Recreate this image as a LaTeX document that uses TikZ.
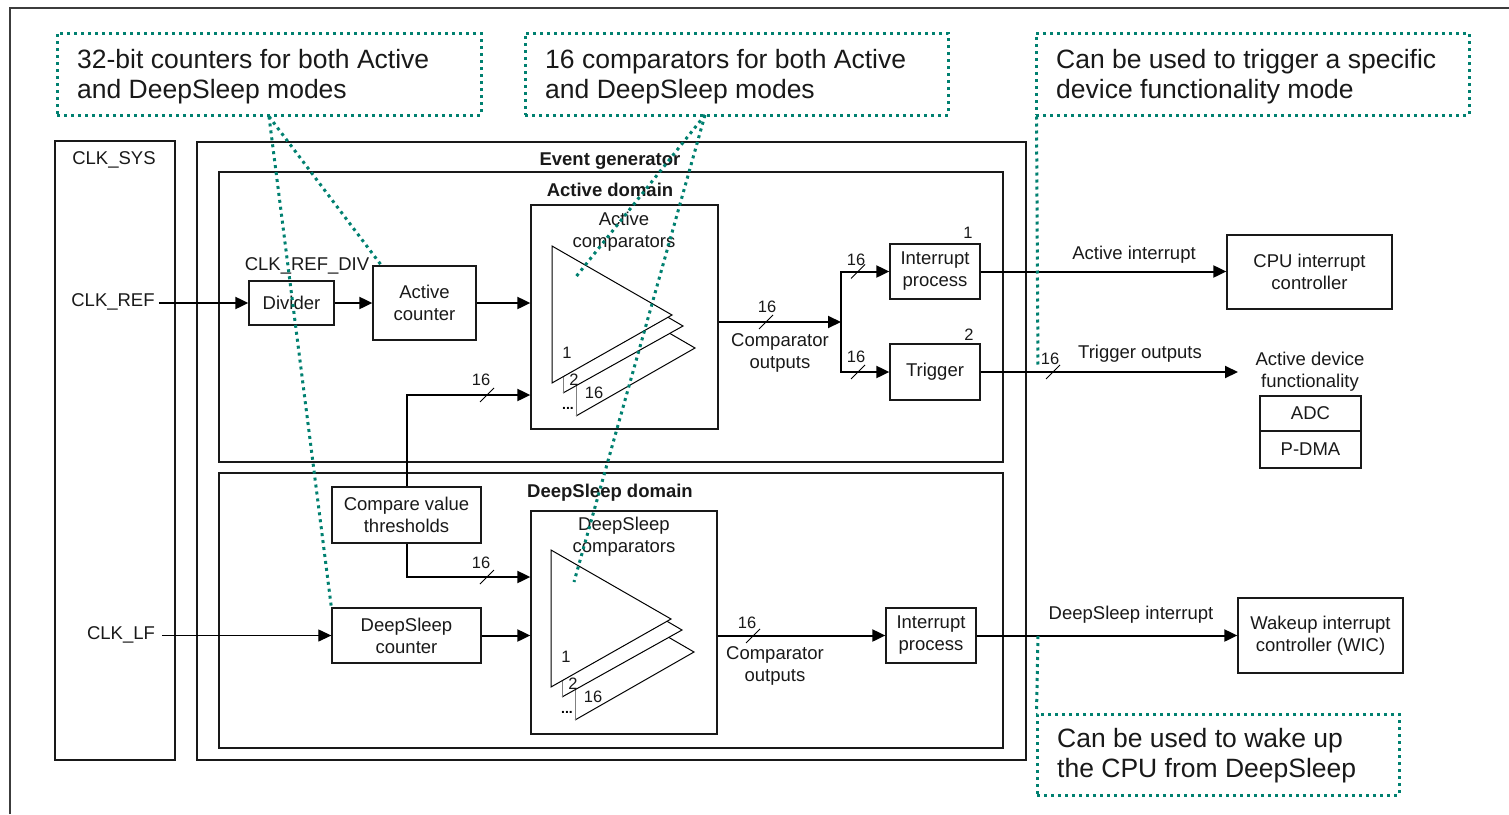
\documentclass[tikz,border=0pt]{standalone}
\usepackage{fontspec}
\setmainfont{Liberation Sans}
\usetikzlibrary{arrows.meta,calc}
\definecolor{noteteal}{RGB}{0,128,112}
\definecolor{ink}{RGB}{25,25,25}
\definecolor{frameink}{RGB}{60,60,60}

% short diagonal slash marking a 16-bit bus
\newcommand\busmark[2]{\draw[busline] ({#1-7},{#2+7}) -- ({#1+7},{#2-7});}

% stack of three comparator triangles (back to front) with their numbers
\newcommand\cmpstack[1]{%
  \fill[white] (576,279) -- (695,348) -- (576,416) -- cycle;
  \draw[tri] (576,279) -- (695,348) -- (576,416);
  \draw[tri,draw=gray] (576,279) -- (576,416);
  \fill[white] (563,256) -- (683,326) -- (563,393) -- cycle;
  \draw[tri] (563,256) -- (683,326) -- (563,393);
  \draw[tri,draw=gray] (563,256) -- (563,393);
  \filldraw[tri,fill=white] (552,246) -- (672,315) -- (552,383) -- cycle;
  \node[numlbl] (#1one) at (567,353) {1};
  \node[numlbl] (#1two) at (574,380) {2};
  \node[numlbl] (#1last) at (594,393) {16};
  \node[font=\fontsize{14}{16}\selectfont\bfseries, inner sep=0pt, anchor=base] (#1dots) at (568,409) {...};
}

\begin{document}
\begin{tikzpicture}[x=1pt,y=-1pt,
  txt/.style={font=\fontsize{18.5}{22}\selectfont, inner sep=0pt, align=center, text=ink},
  hd/.style={font=\fontsize{18.5}{22}\selectfont\bfseries, inner sep=0pt, text=ink},
  numlbl/.style={font=\fontsize{16.5}{18}\selectfont, inner sep=0pt, text=ink},
  big/.style={font=\fontsize{26.5}{30.5}\selectfont, inner sep=0pt, align=left, text=ink},
  blk/.style={draw=ink, line width=1.3pt, inner sep=0pt, align=center,
              font=\fontsize{18.5}{22}\selectfont, text=ink},
  note/.style={draw=noteteal, line width=3pt, dash pattern=on 3pt off 4pt, inner sep=0pt},
  lead/.style={draw=noteteal, line width=3pt, dash pattern=on 3pt off 4pt},
  wire/.style={draw=black, line width=2pt},
  arr/.style={wire, -{Triangle[length=13pt,width=12pt]}},
  busline/.style={draw=black, line width=1pt},
  tri/.style={draw=black, line width=1pt}
]
\useasboundingbox (0,0) rectangle (1509,814);

% page frame
\draw[frameink, line width=2.3pt] (10,814) -- (10,8) -- (1509,8);

% clock source column
\node[blk, minimum width=120pt, minimum height=619pt] (clksys) at (115,450.5) {};
\node[txt] (clksyst) at (114,160) {CLK\_SYS};
\node[txt, inner xsep=4pt] (clkref) at (113,302) {CLK\_REF};
\node[txt, inner xsep=7pt] (clklf) at (121,635) {CLK\_LF};

% event generator and its two domains
\node[blk, line width=2.5pt, minimum width=829pt, minimum height=618pt] (evgen) at (611.5,451) {};
\node[blk, line width=2pt, minimum width=784pt, minimum height=290pt] (actdom) at (611,317) {};
\node[blk, line width=2pt, minimum width=784pt, minimum height=275pt] (dsdom) at (611,610.5) {};
\node[hd] (evgent) at (610,161) {Event generator};
\node[hd] (actdomt) at (610,190) {Active domain};
\node[hd] (dsdomt) at (610,493) {DeepSleep domain};

% active domain blocks
\node[blk, minimum width=85pt, minimum height=44pt] (div) at (291.5,303) {Divider};
\node[txt] (divt) at (307,266) {CLK\_REF\_DIV};
\node[blk, minimum width=103pt, minimum height=74pt] (actcnt) at (424.5,303) {Active\\counter};
\node[blk, minimum width=187pt, minimum height=224pt] (actcmp) at (624.5,317) {};
\node[txt] (actcmpt) at (624,232) {Active\\comparators};
\cmpstack{a}
\node[blk, minimum width=90pt, minimum height=55pt] (intA) at (935,271.5) {Interrupt\\process};
\node[blk, minimum width=90pt, minimum height=56pt] (trig) at (935,372) {Trigger};
\node[numlbl] (intAn) at (968,233) {1};
\node[numlbl] (trign) at (969,335) {2};
\node[txt] (acmpout) at (780,352.5) {Comparator\\outputs};

% deep-sleep domain blocks
\node[blk, minimum width=149pt, minimum height=56pt] (thr) at (406.5,515) {Compare value\\thresholds};
\node[blk, minimum width=149pt, minimum height=55pt] (dscnt) at (406.5,635.5) {DeepSleep\\counter};
\node[blk, minimum width=186pt, minimum height=223pt] (dscmp) at (624,622.5) {};
\node[txt] (dscmpt) at (624,537) {DeepSleep\\comparators};
\begin{scope}[shift={(-1,304)}]
  \cmpstack{d}
\end{scope}
\node[blk, minimum width=90pt, minimum height=55pt] (intD) at (931,635.5) {Interrupt\\process};
\node[txt] (dcmpout) at (775,666) {Comparator\\outputs};

% destinations
\node[blk, minimum width=165pt, minimum height=74pt] (cpu) at (1309.5,272) {CPU interrupt\\controller};
\node[txt] (adft) at (1310,372) {Active device\\functionality};
\node[blk, minimum width=101pt, minimum height=35pt] (adc) at (1310.5,413.5) {ADC};
\node[blk, minimum width=101pt, minimum height=37pt] (pdma) at (1310.5,449.5) {P-DMA};
\node[blk, minimum width=165pt, minimum height=75pt] (wic) at (1320.5,635.5) {Wakeup interrupt\\controller (WIC)};
\node[txt] (aintt) at (1134,255) {Active interrupt};
\node[txt] (toutt) at (1140,354) {Trigger outputs};
\node[txt] (dintt) at (1131,615) {DeepSleep interrupt};

% signal paths
\coordinate (ain2) at (actcmp.west |- 0,395);
\coordinate (din1) at (dscmp.west |- 0,577);
\coordinate (junc) at (841,322);
\coordinate (tout) at (1238,372);
\draw[arr] (clkref.east |- div.west) -- (div.west);
\draw[arr] (div.east) -- (actcnt.west);
\draw[arr] (actcnt.east) -- (actcnt.east -| actcmp.west);
\draw[arr] (thr.north) |- (ain2);
\draw[arr] (thr.south) |- (din1);
\draw[arr, line width=1.2pt] (clklf.east |- dscnt.west) -- (dscnt.west);
\draw[arr] (dscnt.east) -- (dscnt.east -| dscmp.west);
\draw[arr] (actcmp.east |- junc) -- (junc);
\draw[arr] (junc) |- (intA.west);
\draw[arr] (junc) |- (trig.west);
\draw[arr] (intA.east) -- (intA.east -| cpu.west);
\draw[arr] (trig.east) -- (tout);
\draw[arr] (dscmp.east |- intD.west) -- (intD.west);
\draw[arr] (intD.east) -- (intD.east -| wic.west);

% bus widths
\busmark{487}{395} \node[numlbl] (b1) at (481,380) {16};
\busmark{487}{577} \node[numlbl] (b2) at (481,563) {16};
\busmark{766}{322} \node[numlbl] (b3) at (767,307) {16};
\busmark{858}{271.5} \node[numlbl] (b4) at (856,260) {16};
\busmark{858}{372} \node[numlbl] (b5) at (856,357) {16};
\busmark{1053}{372} \node[numlbl] (b6) at (1050,359) {16};
\busmark{753}{636} \node[numlbl] (b7) at (747,623) {16};

% callouts
\node[note, minimum width=424pt, minimum height=82pt] (n1) at (269,74) {};
\node[note, minimum width=423pt, minimum height=82pt] (n2) at (736.5,74) {};
\node[note, minimum width=433pt, minimum height=82pt] (n3) at (1252.5,74) {};
\node[note, minimum width=362pt, minimum height=81pt] (n4) at (1218,754.5) {};
\node[big, anchor=west] (n1t) at (77,76.5) {32-bit counters for both Active\\and DeepSleep modes};
\node[big, anchor=west] (n2t) at (545,76.5) {16 comparators for both Active\\and DeepSleep modes};
\node[big, anchor=west] (n3t) at (1056,76.5) {Can be used to trigger a specific\\device functionality mode};
\node[big, anchor=west] (n4t) at (1057,755.5) {Can be used to wake up\\the CPU from DeepSleep};

\coordinate (n2tip) at (705,115);
\coordinate (acmpdot) at (575,278);
\coordinate (dcmpdot) at (574,582);
\coordinate (trigdot) at (1038,368);
\coordinate (wakedot) at (1038,636);
\draw[lead] (n1.south) -- ($(actcnt.north west)+(9,0)$);
\draw[lead] (n1.south) -- (dscnt.north west);
\draw[lead] (n2tip) -- (acmpdot);
\draw[lead] (n2tip) -- (dcmpdot);
\draw[lead] ($(n3.south west)+(2,0)$) -- (trigdot);
\draw[lead] (wakedot) -- ($(n4.north west)+(1,0)$);
\end{tikzpicture}
\end{document}
